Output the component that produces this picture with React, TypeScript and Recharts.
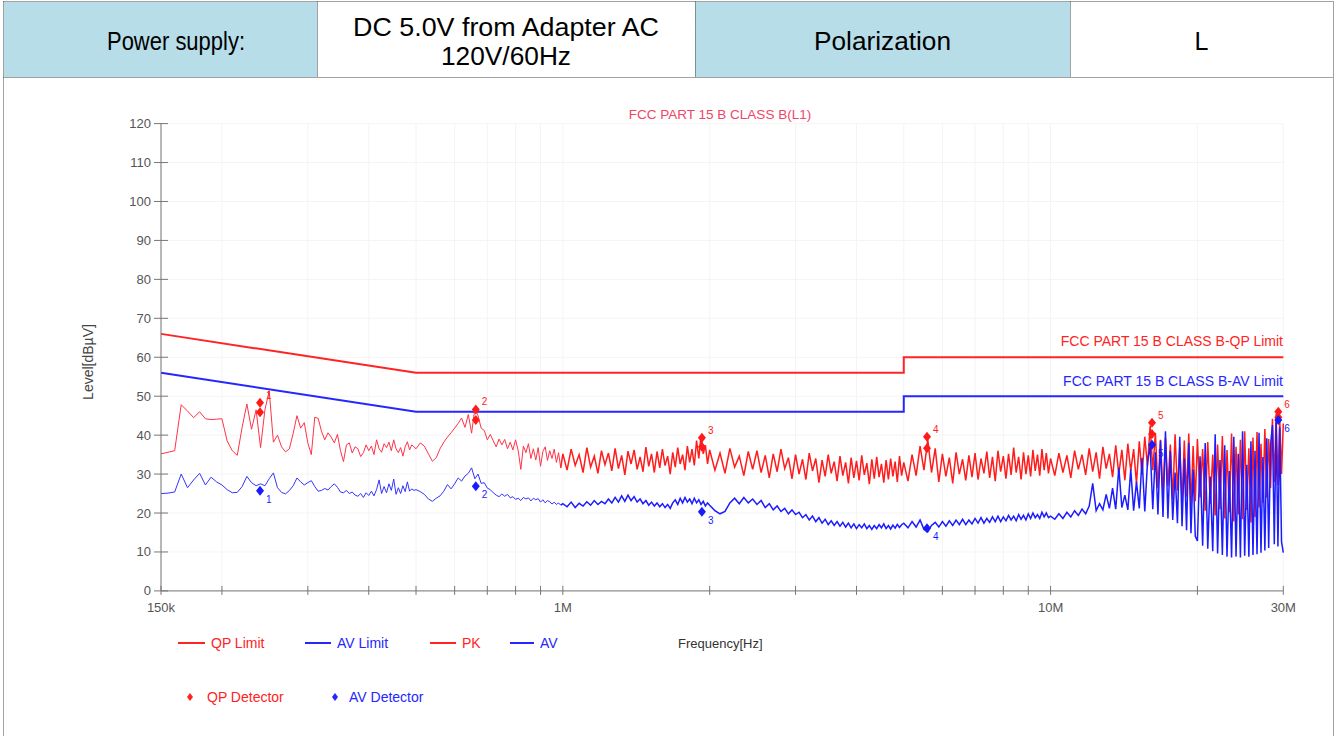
import React from "react";
import { ComposedChart, Line, XAxis, YAxis, CartesianGrid } from "recharts";

const FONT = '"Liberation Sans", Arial, Helvetica, sans-serif';

// ---- sweep frequencies (MHz), split in bands ----
const freqA = [0.15, 0.155, 0.16, 0.165, 0.17, 0.175, 0.18, 0.185, 0.19, 0.195, 0.2, 0.205, 0.21, 0.215, 0.22, 0.225, 0.23, 0.235, 0.24, 0.245, 0.25, 0.255, 0.26, 0.265, 0.27, 0.275, 0.28, 0.285, 0.29, 0.295, 0.3, 0.305, 0.31, 0.315, 0.32, 0.325, 0.33, 0.335, 0.34, 0.345, 0.35, 0.355, 0.36, 0.365, 0.37, 0.375, 0.38, 0.385, 0.39, 0.395, 0.4, 0.405, 0.41, 0.415, 0.42, 0.425, 0.43, 0.435, 0.44, 0.445, 0.45, 0.455, 0.46, 0.465, 0.47, 0.475, 0.48, 0.485, 0.49, 0.495];
const freqB = [0.5, 0.51, 0.52, 0.53, 0.54, 0.55, 0.56, 0.57, 0.58, 0.59, 0.6, 0.61, 0.62, 0.63, 0.64, 0.65, 0.66, 0.67, 0.68, 0.69, 0.7, 0.71, 0.72, 0.73, 0.74, 0.75, 0.76, 0.77, 0.78, 0.79, 0.8, 0.81, 0.82, 0.83, 0.84, 0.85, 0.86, 0.87, 0.88, 0.89, 0.9, 0.91, 0.92, 0.93, 0.94, 0.95, 0.96, 0.97, 0.98, 0.99];
const freqC = [1.0, 1.02, 1.04, 1.06, 1.08, 1.1, 1.12, 1.14, 1.16, 1.18, 1.2, 1.22, 1.24, 1.26, 1.28, 1.3, 1.32, 1.34, 1.36, 1.38, 1.4, 1.42, 1.44, 1.46, 1.48, 1.5, 1.52, 1.54, 1.56, 1.58, 1.6, 1.62, 1.64, 1.66, 1.68, 1.7, 1.72, 1.74, 1.76, 1.78, 1.8, 1.82, 1.84, 1.86, 1.88, 1.9, 1.92, 1.94, 1.96, 1.98];
const freqD = [2.0, 2.05, 2.1, 2.15, 2.2, 2.25, 2.3, 2.35, 2.4, 2.45, 2.5, 2.55, 2.6, 2.65, 2.7, 2.75, 2.8, 2.85, 2.9, 2.95, 3.0, 3.05, 3.1, 3.15, 3.2, 3.25, 3.3, 3.35, 3.4, 3.45, 3.5, 3.55, 3.6, 3.65, 3.7, 3.75, 3.8, 3.85, 3.9, 3.95, 4.0, 4.05, 4.1, 4.15, 4.2, 4.25, 4.3, 4.35, 4.4, 4.45, 4.5, 4.55, 4.6, 4.65, 4.7, 4.75, 4.8, 4.85, 4.9, 4.95];
const freqE = [5.0, 5.1, 5.2, 5.3, 5.4, 5.5, 5.6, 5.7, 5.8, 5.9, 6.0, 6.1, 6.2, 6.3, 6.4, 6.5, 6.6, 6.7, 6.8, 6.9, 7.0, 7.1, 7.2, 7.3, 7.4, 7.5, 7.6, 7.7, 7.8, 7.9, 8.0, 8.1, 8.2, 8.3, 8.4, 8.5, 8.6, 8.7, 8.8, 8.9, 9.0, 9.1, 9.2, 9.3, 9.4, 9.5, 9.6, 9.7, 9.8, 9.9];
const freqF = [10.0, 10.2, 10.4, 10.6, 10.8, 11.0, 11.2, 11.4, 11.6, 11.8, 12.0, 12.2, 12.4, 12.6, 12.8, 13.0, 13.2, 13.4, 13.6, 13.8, 14.0, 14.2, 14.4, 14.6, 14.8, 15.0, 15.2, 15.4, 15.6, 15.8, 16.0, 16.2, 16.4, 16.6, 16.8, 17.0, 17.2, 17.4, 17.6, 17.8, 18.0, 18.2, 18.4, 18.6, 18.8, 19.0, 19.2, 19.4, 19.6, 19.8];
const freqG = [20.0, 20.25, 20.5, 20.75, 21.0, 21.25, 21.5, 21.75, 22.0, 22.25, 22.5, 22.75, 23.0, 23.25, 23.5, 23.75, 24.0, 24.25, 24.5, 24.75, 25.0, 25.25, 25.5, 25.75, 26.0, 26.25, 26.5, 26.75, 27.0, 27.25, 27.5, 27.75, 28.0, 28.25, 28.5, 28.75, 29.0, 29.25, 29.5, 29.75, 30.0];

// ---- PK trace (dBuV) ----
const pkA = [35.2, 35.6, 36.0, 47.8, 46.2, 44.5, 46.0, 44.2, 44.0, 44.1, 44.2, 38.5, 36.0, 34.8, 42.0, 48.0, 41.5, 46.5, 36.8, 46.5, 51.4, 38.2, 40.0, 37.0, 35.7, 36.5, 40.5, 45.0, 41.8, 43.2, 38.0, 35.0, 44.6, 44.3, 41.0, 38.8, 40.6, 39.5, 38.0, 40.2, 36.0, 33.2, 37.5, 38.0, 35.4, 37.0, 36.5, 34.5, 35.5, 37.5, 36.0, 37.2, 35.0, 38.8, 36.5, 35.6, 37.8, 36.8, 38.2, 36.0, 38.8, 36.5, 35.5, 36.8, 34.6, 37.0, 38.3, 36.2, 37.5, 37.0];
const pkB = [36.5, 38.0, 37.2, 35.2, 33.3, 34.2, 36.5, 38.2, 39.5, 40.6, 41.8, 43.0, 44.4, 42.0, 45.3, 40.5, 46.8, 45.0, 41.8, 41.2, 38.8, 40.2, 38.5, 37.0, 39.0, 37.5, 38.9, 36.5, 38.2, 36.2, 38.8, 36.0, 31.2, 37.2, 35.5, 37.8, 34.0, 36.5, 33.6, 36.8, 32.0, 35.8, 37.0, 33.5, 36.0, 34.0, 36.4, 33.0, 35.5, 31.6];
const pkC = [35.2, 31.0, 36.4, 32.2, 35.0, 30.4, 36.8, 31.8, 34.6, 30.2, 36.0, 32.4, 35.4, 30.8, 36.6, 31.4, 34.8, 29.8, 35.9, 32.6, 36.2, 31.2, 34.4, 30.6, 36.9, 32.0, 35.2, 30.4, 35.8, 31.6, 36.4, 32.2, 34.6, 30.0, 35.6, 31.8, 36.8, 32.6, 35.0, 31.0, 37.2, 33.0, 36.4, 32.2, 38.6, 34.0, 40.0, 35.2, 37.4, 32.6];
const pkD = [36.2, 31.0, 35.4, 30.2, 36.6, 31.8, 34.6, 29.6, 35.8, 31.2, 36.0, 30.4, 34.8, 29.0, 35.2, 30.6, 36.4, 31.4, 34.2, 28.8, 35.0, 30.0, 33.8, 28.6, 35.4, 30.8, 34.0, 27.8, 33.6, 29.4, 35.0, 30.2, 33.2, 28.2, 34.6, 29.6, 33.0, 27.6, 34.2, 29.0, 33.4, 28.4, 34.8, 29.8, 32.8, 27.4, 33.8, 28.8, 34.4, 29.2, 32.6, 27.8, 33.6, 28.6, 34.0, 29.4, 33.2, 28.0, 34.6, 29.6];
const pkE = [33.0, 28.2, 35.0, 29.6, 37.2, 31.0, 38.8, 30.4, 36.6, 28.0, 35.2, 29.4, 34.2, 27.6, 35.6, 30.0, 33.8, 28.4, 34.8, 29.2, 35.4, 28.6, 34.0, 30.2, 35.8, 29.0, 34.4, 28.2, 36.0, 30.6, 34.6, 28.8, 35.2, 29.8, 36.8, 30.4, 34.4, 28.6, 35.6, 30.0, 34.8, 29.4, 36.2, 30.8, 35.0, 29.6, 36.4, 31.0, 35.4, 30.2];
const pkF = [34.0, 29.6, 35.4, 30.4, 34.8, 29.0, 36.0, 31.2, 35.0, 29.8, 36.6, 30.6, 35.6, 28.8, 37.0, 31.4, 35.2, 29.2, 37.4, 30.0, 36.2, 28.4, 37.8, 30.8, 36.4, 27.6, 38.4, 29.8, 39.6, 32.0, 42.4, 31.0, 40.6, 26.4, 38.8, 24.6, 39.4, 27.0, 37.6, 23.4, 40.2, 25.8, 36.8, 22.6, 38.6, 24.2, 40.4, 21.8, 37.2, 23.0];
const pkG = [39.0, 24.0, 36.4, 20.6, 38.2, 22.4, 35.0, 19.4, 37.6, 21.0, 39.8, 18.6, 36.2, 20.2, 40.4, 17.8, 37.0, 19.6, 38.8, 18.4, 41.0, 20.8, 36.6, 17.6, 39.4, 19.0, 40.8, 21.4, 37.8, 22.6, 41.6, 24.0, 39.0, 26.4, 44.2, 28.0, 45.4, 27.2, 44.0, 30.0, 43.0];

// ---- AV trace (dBuV) ----
const avA = [25.0, 25.1, 25.4, 30.0, 26.5, 28.5, 30.2, 27.2, 29.2, 28.0, 27.2, 26.0, 25.2, 25.3, 26.8, 29.4, 27.8, 27.0, 27.5, 27.0, 28.8, 30.3, 26.5, 25.3, 24.9, 25.8, 27.0, 29.0, 28.0, 27.2, 27.8, 28.3, 26.8, 25.6, 25.8, 26.3, 25.9, 26.8, 27.5, 26.6, 25.4, 25.2, 25.8, 25.0, 25.4, 24.6, 24.3, 25.0, 24.0, 25.2, 24.5, 25.6, 24.4, 26.0, 28.5, 25.0, 26.8, 25.2, 27.5, 25.8, 28.7, 24.8, 26.5, 25.0, 27.0, 25.5, 28.0, 25.6, 26.2, 25.8];
const avB = [26.0, 25.5, 24.8, 23.6, 23.0, 23.8, 24.4, 25.6, 27.3, 26.2, 27.5, 29.0, 28.2, 29.5, 30.2, 31.6, 28.8, 30.0, 27.6, 27.8, 26.4, 26.0, 25.2, 24.6, 24.2, 24.9, 24.3, 24.8, 23.9, 24.2, 23.5, 23.8, 23.2, 24.0, 23.6, 23.9, 23.1, 23.8, 23.4, 23.7, 22.8, 23.4, 22.6, 23.2, 22.9, 22.3, 22.8, 22.2, 22.6, 22.0];
const avC = [22.4, 21.6, 22.8, 21.4, 22.5, 21.8, 22.9, 22.0, 23.2, 22.2, 23.0, 22.4, 23.6, 22.6, 24.0, 22.8, 24.4, 23.0, 24.6, 23.2, 24.2, 22.8, 23.6, 22.4, 23.2, 22.0, 22.8, 21.8, 22.6, 21.6, 22.4, 21.4, 22.2, 21.2, 22.6, 23.4, 22.2, 23.8, 22.6, 24.0, 22.8, 23.6, 22.4, 23.8, 22.6, 23.4, 22.2, 23.0, 21.8, 22.6];
const avD = [22.0, 20.6, 19.8, 20.4, 22.6, 23.8, 22.4, 24.0, 22.6, 23.6, 22.2, 23.2, 21.4, 22.4, 20.8, 21.8, 20.4, 21.2, 19.8, 20.8, 19.6, 20.2, 18.8, 19.6, 18.2, 19.2, 17.8, 18.8, 17.4, 18.4, 17.0, 18.0, 16.8, 17.8, 16.6, 17.6, 16.4, 17.4, 16.2, 17.2, 16.0, 17.0, 16.2, 17.2, 16.0, 16.8, 15.8, 16.8, 16.0, 17.0, 16.2, 17.2, 16.0, 16.8, 15.9, 16.9, 16.1, 17.1, 16.3, 17.0];
const avE = [17.4, 16.2, 17.8, 16.4, 18.2, 15.8, 15.2, 16.8, 17.6, 16.4, 17.8, 16.6, 18.0, 16.8, 18.2, 17.0, 18.4, 17.0, 18.2, 17.2, 18.6, 17.4, 18.8, 17.4, 18.6, 17.6, 19.0, 17.8, 19.2, 17.8, 19.0, 18.0, 19.4, 18.2, 19.2, 18.0, 19.6, 18.4, 19.4, 18.2, 19.8, 18.6, 20.0, 18.8, 19.6, 18.6, 20.2, 19.0, 20.0, 18.8];
const avF = [19.2, 18.4, 19.8, 18.6, 20.2, 19.0, 20.6, 19.4, 21.0, 19.8, 21.8, 27.6, 20.6, 22.4, 20.8, 24.8, 21.2, 26.4, 21.0, 31.6, 21.4, 24.6, 20.8, 31.2, 20.6, 28.0, 21.2, 34.2, 20.4, 33.0, 37.2, 21.0, 35.6, 19.6, 38.6, 19.0, 41.0, 18.6, 36.0, 18.2, 30.4, 17.4, 39.6, 16.6, 34.0, 15.6, 38.0, 14.8, 31.2, 14.0];
const avG = [12.8, 34.6, 11.6, 38.0, 10.8, 29.4, 10.2, 40.2, 9.6, 33.6, 9.2, 37.4, 8.8, 30.8, 8.6, 39.6, 8.8, 35.2, 8.6, 41.0, 9.0, 32.4, 8.8, 38.4, 9.2, 36.0, 9.4, 40.6, 9.8, 34.4, 10.4, 39.2, 11.0, 37.6, 42.6, 12.0, 43.4, 11.4, 42.0, 12.6, 9.8];

// ---- limits ----
const limitFreq = [0.15, 0.5, 5, 5, 30];
const qpLimit = [66, 56, 56, 60, 60];
const avLimit = [56, 46, 46, 50, 50];

// ---- detector markers ----
const markerNo = [1, 2, 3, 4, 5, 6];
const markerFreq = [0.2394, 0.663, 1.928, 5.58, 16.14, 29.3];
const qpUpper = [48.3, 46.6, 39.3, 39.6, 43.2, 46.0];
const qpLower = [45.9, 43.9, 37.0, 36.6, 40.3, 44.6];
const avDetector = [25.7, 26.9, 20.3, 16.1, 37.5, 43.9];

// ---- axes ----
const xTicks = [0.15, 0.2, 0.3, 0.4, 0.5, 0.6, 0.7, 0.8, 0.9, 1, 2, 3, 4, 5, 6, 7, 8, 9, 10, 20, 30];
const xTickLabelAt = [0.15, 1, 10, 30];
const xTickLabelText = ["150k", "1M", "10M", "30M"];
const yTicks = [0, 10, 20, 30, 40, 50, 60, 70, 80, 90, 100, 110, 120];

// low band (0.15-1 MHz) and high band (1-30 MHz) of the same sweep
const freqLow = [...freqA, ...freqB];
const freqHigh = [...freqC, ...freqD, ...freqE, ...freqF, ...freqG];
const pkLow = [...pkA, ...pkB];
const pkHigh = [...pkC, ...pkD, ...pkE, ...pkF, ...pkG];
const avLow = [...avA, ...avB];
const avHigh = [...avC, ...avD, ...avE, ...avF, ...avG];

const pkLowData = freqLow.map((f, i) => ({ f, v: pkLow[i] }));
const pkHighData = [{ f: freqLow[freqLow.length - 1], v: pkLow[pkLow.length - 1] }, ...freqHigh.map((f, i) => ({ f, v: pkHigh[i] }))];
const avLowData = freqLow.map((f, i) => ({ f, v: avLow[i] }));
const avHighData = [{ f: freqLow[freqLow.length - 1], v: avLow[avLow.length - 1] }, ...freqHigh.map((f, i) => ({ f, v: avHigh[i] }))];
const qpLimData = limitFreq.map((f, i) => ({ f, v: qpLimit[i] }));
const avLimData = limitFreq.map((f, i) => ({ f, v: avLimit[i] }));
const qpUpperData = markerFreq.map((f, i) => ({ f, v: qpUpper[i], n: markerNo[i] }));
const qpLowerData = markerFreq.map((f, i) => ({ f, v: qpLower[i], n: markerNo[i] }));
const avDetData = markerFreq.map((f, i) => ({ f, v: avDetector[i], n: markerNo[i] }));

const RED = "#ff2323";
const BLUE = "#2626ff";

const XTick = (props: any) => {
  const { x, y, payload } = props;
  const idx = xTickLabelAt.indexOf(payload.value);
  return (
    <g>
      <line x1={x} x2={x} y1={y - 5} y2={y + 4} stroke="#777" strokeWidth={1} />
      {idx >= 0 && (
        <text x={x} y={y + 21} textAnchor="middle" fontSize={13} fill="#555" fontFamily={FONT}>
          {xTickLabelText[idx]}
        </text>
      )}
    </g>
  );
};

const YTick = (props: any) => {
  const { x, y, payload } = props;
  return (
    <g>
      <line x1={x - 7} x2={x + 7} y1={y} y2={y} stroke="#777" strokeWidth={1} />
      <text x={x - 10} y={y + 4.5} textAnchor="end" fontSize={13} fill="#555" fontFamily={FONT}>
        {payload.value}
      </text>
    </g>
  );
};

// labelDy: vertical offset of the marker number relative to the diamond centre
const makeDiamond = (color: string, labelDy: number | null) => (props: any) => {
  const { cx, cy, index, payload } = props;
  if (cx == null || cy == null) return <g key={`d${index}`} />;
  return (
    <g key={`d${color}${index}`}>
      <path d={`M${cx},${cy - 5}L${cx + 4},${cy}L${cx},${cy + 5}L${cx - 4},${cy}Z`} fill={color} />
      {labelDy !== null && (
        <text x={cx + 6} y={cy + labelDy} fontSize={10} fill={color} fontFamily={FONT}>
          {payload.n}
        </text>
      )}
    </g>
  );
};

export default function App() {
  const W = 1338;
  const H = 736;
  return (
    <div style={{ position: "fixed", left: 0, top: 0, width: W, height: H, background: "#fff", overflow: "hidden", fontFamily: FONT }}>
      <div style={{ position: "absolute", left: 0, top: 0 }}>
        <ComposedChart width={W} height={H} margin={{ top: 123.6, right: 54.7, bottom: 115.1, left: 101 }}>
          <CartesianGrid stroke="#f4f4f4" />
          <XAxis
            type="number"
            dataKey="f"
            scale="log"
            domain={[0.15, 30]}
            ticks={xTicks}
            interval={0}
            height={30}
            tickSize={0}
            tickMargin={0}
            tickLine={false}
            axisLine={{ stroke: "#777" }}
            tick={(p: any) => <XTick {...p} />}
          />
          <YAxis
            type="number"
            domain={[0, 120]}
            ticks={yTicks}
            interval={0}
            width={60}
            tickSize={0}
            tickMargin={0}
            tickLine={false}
            axisLine={{ stroke: "#777" }}
            tick={(p: any) => <YTick {...p} />}
          />
          <Line data={pkLowData} dataKey="v" stroke="#ff3348" strokeWidth={1} dot={false} activeDot={false} isAnimationActive={false} />
          <Line data={pkHighData} dataKey="v" stroke="#ff1c1c" strokeWidth={1.5} dot={false} activeDot={false} isAnimationActive={false} />
          <Line data={avLowData} dataKey="v" stroke="#3333ff" strokeWidth={1} dot={false} activeDot={false} isAnimationActive={false} />
          <Line data={avHighData} dataKey="v" stroke="#1c1cff" strokeWidth={1.5} dot={false} activeDot={false} isAnimationActive={false} />
          <Line data={qpLimData} dataKey="v" stroke={RED} strokeWidth={2} dot={false} activeDot={false} isAnimationActive={false} />
          <Line data={avLimData} dataKey="v" stroke={BLUE} strokeWidth={2} dot={false} activeDot={false} isAnimationActive={false} />
          <Line data={qpLowerData} dataKey="v" stroke="none" dot={makeDiamond("#ff1a1a", null)} activeDot={false} isAnimationActive={false} />
          <Line data={qpUpperData} dataKey="v" stroke="none" dot={makeDiamond("#ff1a1a", -4)} activeDot={false} isAnimationActive={false} />
          <Line data={avDetData} dataKey="v" stroke="none" dot={makeDiamond("#1a1aff", 12)} activeDot={false} isAnimationActive={false} />
        </ComposedChart>
      </div>
      <svg width={W} height={H} style={{ position: "absolute", left: 0, top: 0, pointerEvents: "none" }} fontFamily={FONT}>
        {/* header cells */}
        <rect x={4} y={2} width={313} height={75} fill="#b7dde8" />
        <rect x={695} y={2} width={375} height={75} fill="#b7dde8" />
        <g stroke="#444" strokeWidth={1} strokeDasharray="1 1" fill="none">
          <line x1={3.5} x2={1333.5} y1={1.5} y2={1.5} />
          <line x1={3.5} x2={1333.5} y1={77.5} y2={77.5} />
          <line x1={3.5} x2={3.5} y1={1.5} y2={736} />
          <line x1={1333.5} x2={1333.5} y1={1.5} y2={736} />
          <line x1={317.5} x2={317.5} y1={1.5} y2={77.5} />
          <line x1={695.5} x2={695.5} y1={1.5} y2={77.5} />
          <line x1={1070.5} x2={1070.5} y1={1.5} y2={77.5} />
        </g>
        <g fontSize={25} fill="#000" textAnchor="middle">
          <text x={176} y={50} textLength={138} lengthAdjust="spacingAndGlyphs">Power supply:</text>
          <text x={506} y={36} textLength={306} lengthAdjust="spacingAndGlyphs">DC 5.0V from Adapter AC</text>
          <text x={506} y={65} textLength={130} lengthAdjust="spacingAndGlyphs">120V/60Hz</text>
          <text x={882.5} y={50} textLength={137} lengthAdjust="spacingAndGlyphs">Polarization</text>
          <text x={1201.5} y={50}>L</text>
        </g>

        {/* chart annotations */}
        <text x={720} y={119} textAnchor="middle" fontSize={13.5} fill="#f04468">FCC PART 15 B CLASS B(L1)</text>
        <text x={1283} y={346} textAnchor="end" fontSize={14} fill={RED}>FCC PART 15 B CLASS B-QP Limit</text>
        <text x={1283} y={386} textAnchor="end" fontSize={14} fill={BLUE}>FCC PART 15 B CLASS B-AV Limit</text>
        <text x={0} y={0} transform="translate(93,362) rotate(-90)" textAnchor="middle" fontSize={14} fill="#444">Level[dBµV]</text>

        {/* legend */}
        <g fontSize={14}>
          <line x1={178} x2={205} y1={643} y2={643} stroke={RED} strokeWidth={2} />
          <text x={211} y={648} fill={RED}>QP Limit</text>
          <line x1={305} x2={331} y1={643} y2={643} stroke={BLUE} strokeWidth={2} />
          <text x={337} y={648} fill={BLUE}>AV Limit</text>
          <line x1={430} x2={456} y1={643} y2={643} stroke={RED} strokeWidth={2} />
          <text x={462} y={648} fill={RED}>PK</text>
          <line x1={510} x2={534} y1={643} y2={643} stroke={BLUE} strokeWidth={2} />
          <text x={540} y={648} fill={BLUE}>AV</text>
          <text x={678} y={648} fill="#333" fontSize={13}>Frequency[Hz]</text>
          <path d="M190,693L193,697L190,701L187,697Z" fill={RED} />
          <text x={207} y={702} fill={RED}>QP Detector</text>
          <path d="M335,693L338,697L335,701L332,697Z" fill={BLUE} />
          <text x={349} y={702} fill={BLUE}>AV Detector</text>
        </g>
      </svg>
    </div>
  );
}
